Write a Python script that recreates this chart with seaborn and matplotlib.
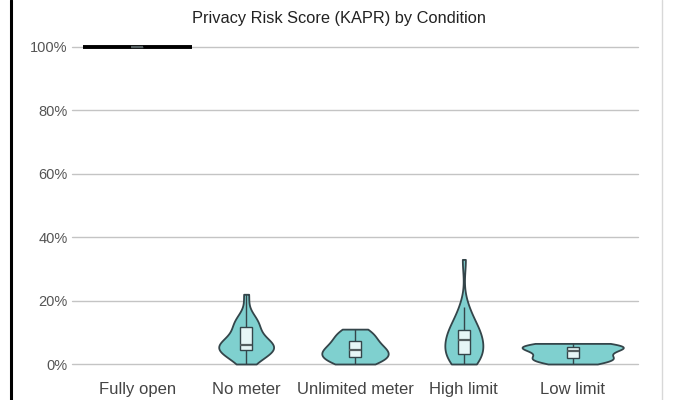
import matplotlib
matplotlib.use("Agg")
import matplotlib.pyplot as plt
import matplotlib.ticker as mticker
from matplotlib.lines import Line2D
import seaborn as sns
import pandas as pd

categories = ["Fully open", "No meter", "Unlimited meter", "High limit", "Low limit"]

fully_open = [100, 100, 100, 100, 100, 100, 100, 100]
no_meter = [0, 2, 3, 4, 4.3, 4.6, 5, 5.3, 5.6, 6, 6, 6.4, 7, 8.5, 11.5, 12, 12.5, 13.5, 15, 22]
unlimited_meter = [0, 0.5, 1.1, 1.8, 2.5, 3.0, 3.5, 4.0, 4.6, 5.3, 6.1, 7.0, 8.0, 9.0, 10.0, 11]
high_limit = [0, 0.5, 1, 2, 2.5, 3, 3.4, 4.2, 4.8, 5.5, 7, 8, 8.5, 9, 10, 10.5, 11, 12, 14, 16, 18, 33]
low_limit = [0, 0.7, 1.2, 1.6, 1.9, 2.4, 3.3, 4.0, 4.6, 5.0, 5.3, 5.6, 5.9, 6.2, 6.5]

series = [fully_open, no_meter, unlimited_meter, high_limit, low_limit]
rows = []
for cat, vals in zip(categories, series):
    for v in vals:
        rows.append({"condition": cat, "kapr": v})
df = pd.DataFrame(rows)

# groups with zero spread cannot get a density; they are drawn as a flat line
constant = [c for c, v in zip(categories, series) if min(v) == max(v)]
df_violin = df[~df["condition"].isin(constant)]

sns.set_theme(style="white")
plt.rcParams["font.family"] = ["Liberation Sans", "DejaVu Sans"]

fill = "#7fd0cf"
edge = "#34454a"
boxfill = "#e6f6f6"

fig = plt.figure(figsize=(6.78, 4.0), dpi=100)
ax = fig.add_axes([72 / 678, 1 - 364 / 400, (638 - 72) / 678, (364 - 47) / 400])

sns.violinplot(data=df_violin, x="condition", y="kapr", order=categories, cut=0,
               inner=None, density_norm="area", width=0.93, color=fill,
               linecolor=edge, linewidth=1.3, saturation=1, ax=ax)

for i, (cat, vals) in enumerate(zip(categories, series)):
    if cat in constant:
        ax.hlines(vals[0], i - 0.5, i + 0.5, color="black", lw=2.8, zorder=1.5, clip_on=False)

sns.boxplot(data=df, x="condition", y="kapr", order=categories, width=0.11,
            showfliers=False, showcaps=False, whis=1.5,
            boxprops=dict(facecolor=boxfill, edgecolor=edge, linewidth=1.0),
            whiskerprops=dict(color=edge, linewidth=1.0),
            medianprops=dict(color="#555f60", linewidth=1.6),
            ax=ax)

ax.set_xlim(-0.6, 4.6)
ax.set_ylim(0, 100)
ax.set_yticks([0, 20, 40, 60, 80, 100])
ax.yaxis.set_major_formatter(mticker.PercentFormatter(xmax=100, decimals=0))
ax.grid(axis="y", color="#c4c4c4", linewidth=1.0)
ax.grid(axis="x", visible=False)
ax.set_axisbelow(True)
for s in ax.spines.values():
    s.set_visible(False)
ax.tick_params(axis="y", length=0, pad=3, labelsize=10.5, labelcolor="#555555")
ax.tick_params(axis="x", length=0, pad=13, labelsize=12, labelcolor="#444444")
ax.set_xlabel("")
ax.set_ylabel("")
ax.set_title("Privacy Risk Score (KAPR) by Condition", fontsize=11.8, color="#222222",
             pad=17, x=(339 - 72) / 566)

fig.canvas.draw()
for art in ax.get_children():
    try:
        art.set_clip_on(False)
    except Exception:
        pass
for gl in ax.yaxis.get_gridlines():
    gl.set_clip_on(False)

fig.add_artist(Line2D([11 / 678, 11 / 678], [0, 1], color="black", lw=2.2))
fig.add_artist(Line2D([662 / 678, 662 / 678], [0, 1], color="#d8d8d8", lw=1.0))

fig.savefig("out.png", dpi=100)
